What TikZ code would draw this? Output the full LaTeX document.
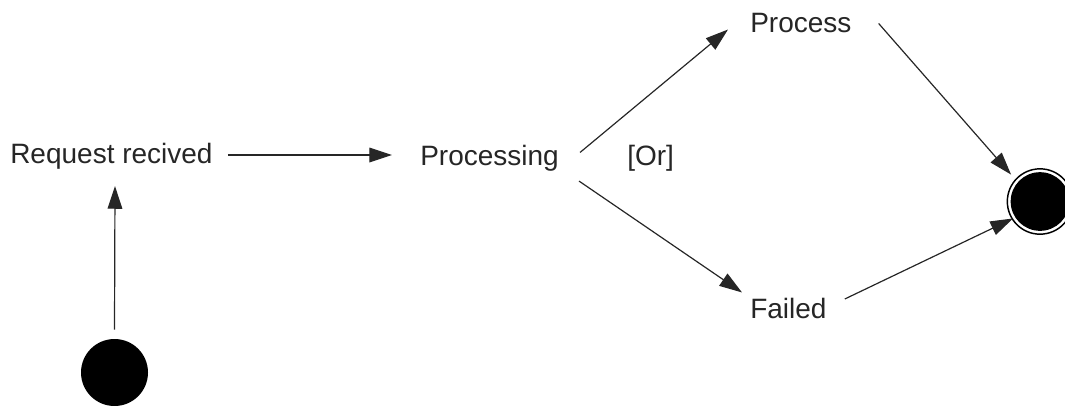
\documentclass[tikz,border=0pt]{standalone}
\usepackage{fontspec}
\setmainfont{Liberation Sans}
\usetikzlibrary{arrows.meta,calc}
\begin{document}
\begin{tikzpicture}[x=0.75pt,y=-0.75pt,
  lbl/.style={inner sep=0pt,anchor=base west,font=\fontsize{21}{25}\selectfont,text=black!85},
  arr/.style={line width=0.9pt,draw=black!85,-{Triangle[length=17pt,width=11pt]}},
  startdot/.style={circle,fill=black,inner sep=0pt,minimum size=50.25pt},
  enddot/.style={circle,fill=black,inner sep=0pt,minimum size=44pt}]
\useasboundingbox (0,0) rectangle (1065,405);
\node[lbl] (req) at (10,163) {Request recived};
\node[lbl] (proc) at (420,165) {Processing};
\node[lbl] (or) at (627,165) {[Or]};
\node[lbl] (pr) at (750,32) {Process};
\node[lbl] (fail) at (750,318) {Failed};
\node[startdot] (start) at (114.5,372.5) {};
\node[circle,draw=black,line width=1.1pt,inner sep=0pt,minimum size=49pt] (endring) at (1040,201.5) {};
\node[enddot] (end) at (1040,201.5) {};
\draw[arr] ($(start.north)+(0,-9)$) -- ($(req.south west)+(105,17)$);
\draw[arr] ($(req.base east)+(15,-8)$) -- ($(proc.base west)+(-28,-10)$);
\draw[arr] ($(proc.north east)+(21,8)$) -- ($(pr.west)+(-22,7)$);
\draw[arr] ($(proc.south east)+(20,10)$) -- ($(fail.north west)+(-8,-5)$);
\draw[arr] ($(pr.east)+(27,1)$) -- ($(end.north west)+(-8,-6)$);
\draw[arr] ($(fail.east)+(18,-9)$) -- ($(end.south west)+(-6,-4)$);
\end{tikzpicture}
\end{document}
